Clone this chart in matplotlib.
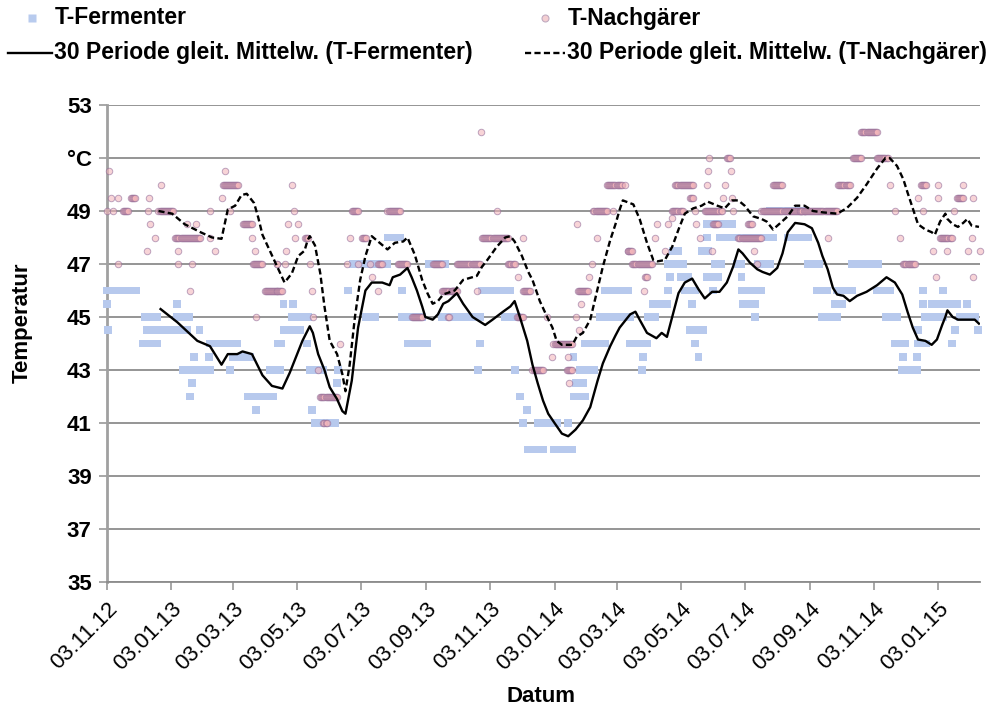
import matplotlib
matplotlib.use("Agg")
import matplotlib.pyplot as plt
from matplotlib.lines import Line2D
import numpy as np
import pandas as pd

plt.rcParams['font.family'] = ['Liberation Sans', 'DejaVu Sans']

start = pd.Timestamp('2012-11-03')  # day 0 of the series
x_end = 831                          # last day shown on the axis

# T-Fermenter readings, as runs of equal readings: first day, last day, value
ferm_from = [0, 0, 1, 36, 38, 34, 67, 67, 88, 83, 97, 72, 81, 79, 98, 117, 120, 134, 142, 155, 163,
             168, 177, 176, 168, 166, 190, 162, 193, 195, 220, 219, 198, 229, 246, 267, 234, 281, 281, 286, 306, 319,
             326, 355, 353, 357, 379, 388, 393, 400, 396, 410, 401, 425, 439, 444, 446, 444, 450, 455, 469, 474,
             493, 498, 514, 510, 509, 515, 520, 534, 536, 534, 539, 546, 550, 557, 555, 560, 563, 566, 571, 571,
             577, 571, 579, 583, 600, 604, 604, 605, 617, 620, 631, 648,
             660, 667, 676, 681, 693, 695, 709, 733, 741, 750, 758, 771, 757, 772, 772, 777, 777, 779, 785, 796,
             798, 804, 807, 812, 819, 829]
ferm_to = [28, 0, 1, 48, 76, 48, 67, 78, 88, 83, 97, 98, 81, 79, 124, 117, 136, 158, 142, 165, 163,
           168, 177, 191, 184, 166, 190, 162, 206, 195, 220, 219, 217, 229, 255, 279, 267, 281, 300, 305, 322, 331,
           355, 355, 353, 384, 390, 388, 393, 400, 396, 428, 415, 443, 439, 444, 453, 455, 464, 474, 498, 496,
           493, 509, 514, 510, 509, 522, 533, 534, 536, 548, 544, 553, 560, 557, 567, 560, 563, 572, 571, 595,
           577, 582, 585, 634, 604, 604, 623, 617, 617, 631, 664, 664,
           667, 678, 685, 695, 700, 709, 734, 745, 752, 760, 758, 771, 771, 772, 780, 777, 777, 796, 793, 796,
           809, 804, 807, 826, 819, 829]
ferm_val = [46, 45.5, 44.5, 45, 44.5, 44, 45.5, 45, 44.5, 43.5, 43.5, 43, 42.5, 42, 44, 43, 43.5, 42, 41.5, 43, 44,
            45.5, 45.5, 45, 44.5, 44, 44, 43, 43, 41.5, 43, 42.5, 41, 46, 45, 48, 47, 46, 45, 44, 47, 45,
            45, 44, 43, 46, 45, 43, 42, 41.5, 41, 41, 40, 40, 41, 43.5, 42.5, 42, 43, 44, 45, 46,
            46, 44, 44, 43.5, 43, 45, 45.5, 46, 46.5, 47, 47.5, 46.5, 46, 45.5, 44.5, 44, 43.5, 47.5, 48, 48.5,
            46, 46.5, 47, 48, 47, 46.5, 46, 45.5, 45, 47, 49, 48,
            48, 47, 46, 45, 45.5, 46, 47, 46, 45, 44, 43.5, 43.5, 43, 44.5, 44, 46, 45.5, 45, 45.5, 46,
            45.5, 44, 44.5, 45, 45.5, 44.5]

# T-Nachgaerer readings, same layout
nach_from = [2, 4, 10, 23, 0, 6, 15, 10, 51, 40, 39, 49, 41, 46, 38, 68, 65, 98, 68, 81, 76, 85, 79, 98, 109,
             112, 110, 117, 103, 129, 138, 141, 139, 162, 150, 142,
             176, 178, 172, 182, 179, 188, 170, 162, 169, 193, 162, 195, 196, 201, 203, 206, 222, 233, 231, 243,
             228, 239, 250, 258, 252, 258, 267, 277, 290, 310, 319, 325,
             356, 371, 357, 396, 333, 382, 328, 352, 391, 396, 326, 390, 419, 425, 424, 439, 405, 438, 440, 447,
             446, 449, 451, 448, 459, 462, 466, 463, 482, 476, 496,
             493, 496, 500, 512, 511, 522, 524, 534, 531, 538, 538, 560, 569, 596, 541, 555, 561, 564, 571, 572,
             573, 590, 586, 595, 588, 594, 577, 576, 601, 610, 616, 619, 623, 634,
             660, 686, 696, 710, 733, 718, 745, 750, 755, 758, 772, 775, 777, 786, 789, 791, 791, 793, 800, 806,
             809, 815, 820, 831, 823, 824, 824]
nach_to = [2, 4, 10, 27, 0, 6, 20, 10, 51, 40, 39, 63, 41, 46, 38, 68, 89, 98, 68, 81, 76, 85, 79, 98, 109,
           112, 125, 117, 103, 138, 138, 141, 148, 162, 162, 142,
           176, 178, 172, 182, 179, 191, 170, 162, 169, 193, 167, 195, 196, 201, 219, 209, 222, 239, 231, 247,
           228, 239, 250, 262, 252, 258, 279, 286, 300, 319, 331, 325,
           356, 371, 382, 396, 355, 388, 333, 352, 391, 403, 326, 396, 419, 443, 424, 439, 415, 443, 440, 447,
           446, 449, 451, 458, 459, 462, 466, 476, 482, 490, 496,
           493, 500, 519, 514, 511, 522, 524, 534, 531, 538, 548, 560, 585, 596, 558, 558, 561, 564, 571, 572,
           573, 593, 586, 595, 588, 594, 582, 576, 623, 614, 616, 619, 664, 643,
           695, 686, 707, 718, 743, 733, 745, 750, 755, 769, 772, 780, 777, 786, 789, 791, 791, 804, 800, 806,
           815, 815, 820, 831, 823, 824, 824]
nach_val = [50.5, 49.5, 49.5, 49.5, 49, 49, 49, 47, 50, 49.5, 49, 49, 48.5, 48, 47.5, 47.5, 48, 48, 47, 47, 48.5,
            48.5, 46, 49, 49.5, 50.5, 50, 49, 47.5, 48.5, 48, 47.5, 47, 47, 46, 45,
            50, 49, 48.5, 48.5, 48, 48, 47.5, 47, 47, 47, 46, 46, 45, 43, 42, 41, 44, 49, 48, 48,
            47, 47, 47, 47, 46.5, 46, 49, 47, 45, 47, 46, 45,
            52, 49, 48, 48, 47, 47, 46, 46, 46.5, 46, 45, 45, 45, 44, 43.5, 43.5, 43, 43, 42.5, 48.5,
            45, 44.5, 45.5, 46, 46.5, 47, 48, 49, 49, 50, 47.5,
            50, 47.5, 47, 46.5, 46, 48, 48.5, 48.5, 47.5, 48.75, 49, 49, 49, 49, 50, 49.5, 48.5, 48, 50, 50.5,
            51, 51, 49.5, 49.5, 50, 50.5, 48.5, 47.5, 48, 48.5, 47.5, 47, 49, 50,
            49, 48, 50, 51, 51, 52, 50, 49, 48, 47, 49.5, 50, 49, 47.5, 46.5, 50, 49.5, 48, 47.5, 49,
            49.5, 50, 47.5, 47.5, 48, 46.5, 49.5]

# 30 Periode gleitender Mittelwert (T-Fermenter)
ma_ferm_day = [51, 67, 86, 98, 109, 115, 124, 129, 138, 148, 157, 167, 174, 179, 186, 193, 196, 201, 207, 212,
               219, 224, 227, 233, 239, 246, 252, 262, 269, 272, 279, 286, 290, 295, 300, 303, 310, 315, 320, 325,
               333, 339, 348, 360, 367, 377, 384, 388, 393, 400, 405, 410, 415, 420, 426, 433, 439, 446, 453, 460,
               467, 472, 479, 484, 488, 498, 503, 507, 514, 523, 528, 533, 538, 544, 550, 557, 563, 569, 576, 583,
               590, 596, 601, 605, 612, 619, 624, 631, 638, 643, 648, 655, 664, 671, 677, 681, 686, 691, 695, 701,
               707, 714, 723, 733, 742, 750, 757, 762, 767, 772, 779, 785, 790, 795, 798, 800, 805, 810, 819, 826, 830]
ma_ferm_val = [45.3, 44.8, 44.1, 43.9, 43.2, 43.6, 43.6, 43.7, 43.6, 42.8, 42.4, 42.3, 42.9, 43.4, 44.1, 44.65, 44.4,
               43.6, 43.0, 42.35, 41.9, 41.45, 41.35, 42.6, 44.6, 46.0, 46.3, 46.3, 46.2, 46.5, 46.6, 46.85, 46.5,
               46.0, 45.4, 45.0, 44.9, 45.1, 45.5, 45.6, 45.9, 45.5, 45.0, 44.7, 44.9, 45.2, 45.4, 45.6, 45.0, 44.1,
               43.2, 42.5, 41.85, 41.35, 41.0, 40.6, 40.5, 40.75, 41.1, 41.6, 42.6, 43.25, 43.9, 44.3, 44.6, 45.1,
               45.2, 44.9, 44.4, 44.2, 44.4, 44.25, 45.0, 45.9, 46.3, 46.45, 46.05, 45.7, 45.95, 45.95, 46.3, 46.9,
               47.55, 47.4, 47.05, 46.8, 46.7, 46.6, 46.85, 47.4, 48.2, 48.55, 48.5, 48.35, 47.8, 47.3, 46.8, 46.1,
               45.85, 45.8, 45.6, 45.8, 45.95, 46.2, 46.5, 46.3, 45.85, 45.2, 44.6, 44.15, 44.1, 43.95, 44.15, 44.7,
               45.0, 45.25, 45.0, 44.9, 44.9, 44.9, 44.75]

# 30 Periode gleitender Mittelwert (T-Nachgaerer)
ma_nach_day = [49, 62, 74, 89, 100, 109, 115, 122, 128, 133, 140, 144, 148, 155, 162, 169, 176, 182, 188, 191,
               193, 198, 203, 207, 212, 219, 224, 227, 231, 236, 241, 246, 252, 258, 267, 274, 282, 286, 293, 300,
               305, 310, 315, 320, 331, 339, 352, 357, 362, 371, 379, 384, 388, 395, 401, 405, 412, 419, 424, 428,
               433, 443, 447, 453, 460, 466, 472, 479, 484, 488, 491, 501, 507, 514, 520, 524, 531, 538, 544, 550,
               558, 566, 572, 581, 588, 595, 601, 607, 615, 623, 628, 634, 641, 648, 655, 664, 672, 681, 695, 704,
               714, 723, 733, 741, 745, 752, 758, 762, 767, 772, 779, 785, 788, 793, 798, 800, 805, 810, 815, 819,
               823, 830]
ma_nach_val = [49.0, 48.9, 48.5, 48.2, 48.0, 47.95, 49.06, 49.2, 49.6, 49.65, 49.3, 48.75, 48.1, 47.5, 46.9, 46.3,
               46.65, 47.3, 47.5, 47.9, 48.05, 47.7, 46.65, 45.4, 44.1, 43.6, 42.85, 42.2, 43.2, 45.0, 46.4, 47.3,
               48.05, 47.85, 47.55, 47.8, 47.85, 48.0, 47.35, 46.4, 45.9, 45.5, 45.6, 45.85, 46.0, 46.4, 46.55, 46.9,
               47.15, 47.65, 48.0, 48.05, 47.85, 47.3, 46.7, 46.4, 45.6, 45.0, 44.6, 44.1, 43.95, 43.95, 44.25, 44.4,
               44.9, 45.9, 46.9, 47.9, 48.5, 49.05, 49.4, 49.25, 48.7, 47.8, 47.15, 47.1, 47.15, 47.65, 48.3, 48.9,
               49.1, 49.2, 49.35, 49.2, 49.1, 49.4, 49.4, 49.2, 48.8, 48.7, 48.6, 48.3, 48.55, 48.8, 49.2, 49.2,
               49.0, 48.95, 48.9, 49.1, 49.5, 50.0, 50.6, 51.0, 51.0, 50.7, 50.2, 49.7, 49.1, 48.5, 48.3, 48.2,
               48.1, 48.6, 48.9, 48.7, 48.5, 48.4, 48.55, 48.7, 48.45, 48.4]

tick_dates = ['03.11.12', '03.01.13', '03.03.13', '03.05.13', '03.07.13', '03.09.13', '03.11.13',
              '03.01.14', '03.03.14', '03.05.14', '03.07.14', '03.09.14', '03.11.14', '03.01.15']
y_ticks = [35, 37, 39, 41, 43, 45, 47, 49, 51, 53]
y_labels = ['35', '37', '39', '41', '43', '45', '47', '49', '°C', '53']


def runs_to_points(first, last, vals):
    d, v = [], []
    for a, b, t in zip(first, last, vals):
        for k in range(a, b + 1):
            d.append(k)
            v.append(t)
    return start + pd.to_timedelta(d, unit='D'), np.array(v)


def to_dates(days):
    return start + pd.to_timedelta(days, unit='D')


fig = plt.figure(figsize=(9.91, 7.10), dpi=100)
W, H = 991, 710
ax = fig.add_axes([107 / W, 1 - 582 / H, (980 - 107) / W, (582 - 105) / H])

fx, fy = runs_to_points(ferm_from, ferm_to, ferm_val)
nx, ny = runs_to_points(nach_from, nach_to, nach_val)

ax.scatter(fx, fy, marker='s', s=32, color='#b7c9ed', edgecolors='none', zorder=3, clip_on=False)
ax.scatter(nx, ny, marker='o', s=22, facecolor='#f4b6ba', edgecolors='#8f6a98', linewidths=0.7,
           alpha=0.58, zorder=4, clip_on=False)
ax.plot(to_dates(ma_ferm_day), ma_ferm_val, color='black', lw=1.7, zorder=5)
ax.plot(to_dates(ma_nach_day), ma_nach_val, color='black', lw=1.7, ls=(0, (2.6, 1.4)), zorder=5)

ax.set_xlim(start, to_dates([x_end])[0])
ax.set_ylim(35, 53)
ax.set_yticks(y_ticks)
ax.set_yticklabels(y_labels, fontsize=16, fontweight='bold')
ticks = pd.to_datetime(tick_dates, format='%d.%m.%y')
ax.set_xticks(ticks)
ax.set_xticklabels(tick_dates, rotation=45, ha='right', rotation_mode='anchor', fontsize=16)

ax.grid(axis='y', color='#8c8c8c', lw=1.3, zorder=1)
ax.tick_params(axis='y', length=6, width=1.3, color='#a0a0a0', pad=5)
ax.tick_params(axis='x', length=6, width=1.3, color='#a0a0a0', pad=6)
for s in ['top', 'right']:
    ax.spines[s].set_visible(False)
ax.spines['left'].set_color('#a0a0a0')
ax.spines['left'].set_linewidth(2)
ax.spines['bottom'].set_color('#8c8c8c')
ax.spines['bottom'].set_linewidth(1.3)

fig.text(22 / W, 1 - 323 / H, 'Temperatur', rotation=90, ha='center', va='center',
         fontsize=16, fontweight='bold')
fig.text(541 / W, 1 - 697 / H, 'Datum', ha='center', va='center', fontsize=16, fontweight='bold')

# legend drawn by hand, Excel style
tf = fig.transFigure
def px(x, y):
    return x / W, 1 - y / H

fig.add_artist(Line2D(*zip(px(32, 18)), marker='s', ms=6, color='#b8cbee', mec='none', transform=tf))
fig.add_artist(Line2D(*zip(px(545, 18)), marker='o', ms=5, mfc='#f4cfd2', mec='#c0aac0', mew=0.8,
                      transform=tf))
fig.add_artist(Line2D(*zip(px(8, 53), px(52, 53)), color='black', lw=1.7, transform=tf))
fig.add_artist(Line2D(*zip(px(525, 53), px(565, 53)), color='black', lw=1.7, ls=(0, (2.6, 1.4)),
                      transform=tf))
leg_kw = dict(ha='left', va='center', fontsize=16.5, fontweight='bold')
fig.text(*px(55, 18), 'T-Fermenter', **leg_kw)
fig.text(*px(568, 18), 'T-Nachgärer', **leg_kw)
fig.text(*px(54, 53), '30 Periode gleit. Mittelw. (T-Fermenter)', **leg_kw)
fig.text(*px(567, 53), '30 Periode gleit. Mittelw. (T-Nachgärer)', **leg_kw)

fig.savefig('out.png', dpi=100)
